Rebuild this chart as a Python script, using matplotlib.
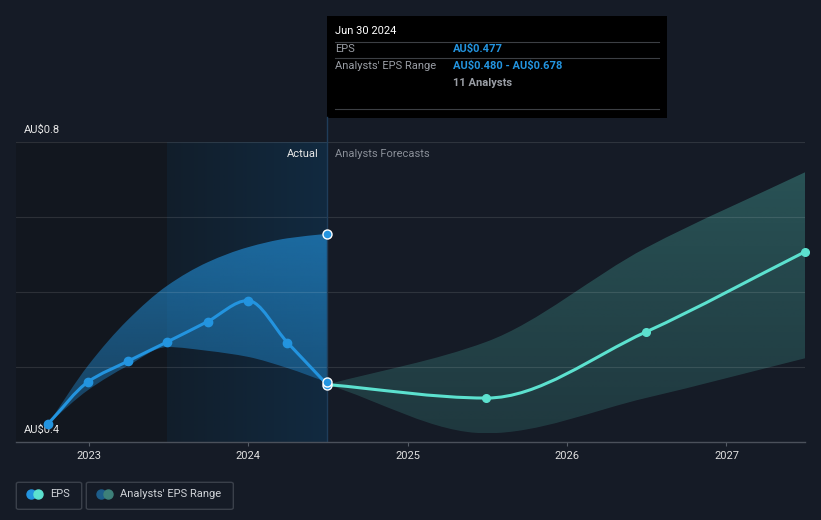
import numpy as np
import pandas as pd
import matplotlib
matplotlib.use("Agg")
from matplotlib import pyplot as plt
import matplotlib.dates as mdates
from matplotlib.path import Path
from matplotlib.patches import PathPatch, Rectangle, FancyBboxPatch
from matplotlib.lines import Line2D
from matplotlib.colors import to_rgb

plt.rcParams['font.family'] = ['Roboto', 'DejaVu Sans']

# EPS history (quarterly) and forecasts
actual_dates = ['2022-09-30', '2022-12-31', '2023-03-31', '2023-06-30',
                '2023-09-30', '2023-12-31', '2024-03-31', '2024-06-30']
actual_eps = [0.425, 0.481, 0.508, 0.534, 0.561, 0.589, 0.533, 0.477]

past_range_low = [0.425, 0.470, 0.502, 0.527, 0.522, 0.514, 0.499, 0.480]
past_range_high = [0.425, 0.503, 0.563, 0.609, 0.640, 0.660, 0.672, 0.678]

fc_dates = ['2024-06-30', '2025-06-30', '2026-06-30', '2027-06-30']
fc_eps = [0.477, 0.459, 0.547, 0.654]
fc_low = [0.477, 0.412, 0.459, 0.512]
fc_high = [0.477, 0.534, 0.659, 0.760]

year_ticks = ['2023', '2024', '2025', '2026', '2027']
y_labels = {0.4: 'AU$0.4', 0.8: 'AU$0.8'}

BG = '#151b26'
BLUE = '#2394df'
TEAL = '#5ce1cf'


def to_num(dates):
    return mdates.date2num(pd.to_datetime(dates))


def smooth(xs, ys):
    # monotone cubic through the points, as bezier segments
    xs = np.asarray(xs, float)
    ys = np.asarray(ys, float)
    h = np.diff(xs)
    d = np.diff(ys) / h
    m = np.zeros_like(ys)
    m[0], m[-1] = d[0], d[-1]
    for i in range(1, len(xs) - 1):
        if d[i - 1] * d[i] <= 0:
            m[i] = 0
        else:
            m[i] = 3 * (h[i - 1] + h[i]) / ((2 * h[i] + h[i - 1]) / d[i - 1] + (h[i] + 2 * h[i - 1]) / d[i])
    verts = [(xs[0], ys[0])]
    for i in range(len(xs) - 1):
        verts.append((xs[i] + h[i] / 3, ys[i] + m[i] * h[i] / 3))
        verts.append((xs[i + 1] - h[i] / 3, ys[i + 1] - m[i + 1] * h[i] / 3))
        verts.append((xs[i + 1], ys[i + 1]))
    return verts


def line_path(xs, ys):
    v = smooth(xs, ys)
    return Path(v, [Path.MOVETO] + [Path.CURVE4] * (len(v) - 1))


def band_path(xs, lo, hi):
    up = smooth(xs, hi)
    dn = smooth(xs, lo)[::-1]
    verts = up + dn + [up[0]]
    codes = ([Path.MOVETO] + [Path.CURVE4] * (len(up) - 1)
             + [Path.LINETO] + [Path.CURVE4] * (len(dn) - 1) + [Path.CLOSEPOLY])
    return Path(verts, codes)


def gradient_band(ax, xs, lo, hi, color, a_top, a_bot):
    patch = PathPatch(band_path(xs, lo, hi), facecolor='none', edgecolor='none')
    ax.add_patch(patch)
    g = np.linspace(0, 1, 256)[:, None]
    rgba = np.zeros((256, 1, 4))
    rgba[..., :3] = to_rgb(color)
    rgba[..., 3] = a_top * (1 - g) + a_bot * g
    im = ax.imshow(rgba, extent=[xs[0], xs[-1], min(lo), max(hi)], aspect='auto',
                   origin='upper', zorder=2, interpolation='bilinear')
    im.set_clip_path(patch)


xa = to_num(actual_dates)
xf = to_num(fc_dates)
x_left = to_num(['2022-07-18'])[0]
x_right = to_num(['2027-06-30'])[0]

fig = plt.figure(figsize=(8.21, 5.2), dpi=100, facecolor=BG)
ax = fig.add_axes([16 / 821, 1 - 442.3 / 520, 789 / 821, 300 / 520])
ax.set_facecolor(BG)

# shaded past regions
ax.add_patch(Rectangle((x_left, 0.4), xa[3] - x_left, 0.4, color='#12171f', lw=0, zorder=0))
grad = np.linspace(0, 1, 256)
c0 = np.array([0x11, 0x1e, 0x2b]) / 255
c1 = np.array([0x11, 0x2a, 0x40]) / 255
img = (c0[None, :] * (1 - grad[:, None]) + c1[None, :] * grad[:, None])[None, :, :]
ax.imshow(img, extent=[xa[3], xa[-1], 0.4, 0.8], aspect='auto', zorder=0.5, interpolation='bilinear')

# bands
gradient_band(ax, xa, past_range_low, past_range_high, BLUE, 0.62, 0.33)
gradient_band(ax, xf, fc_low, fc_high, TEAL, 0.28, 0.15)

for v in [0.5, 0.6, 0.7, 0.8]:
    ax.axhline(v, color='white', alpha=0.11, lw=0.8, zorder=2.2)

ax.axvline(xa[-1], color='#1f3d5a', lw=1, zorder=2.5)

# lines
ax.add_patch(PathPatch(line_path(xa, actual_eps), facecolor='none', edgecolor=BLUE,
                       lw=2.2, zorder=3, capstyle='round'))
ax.add_patch(PathPatch(line_path(xf, fc_eps), facecolor='none', edgecolor=TEAL,
                       lw=2.2, zorder=3, capstyle='round'))
ax.plot(xa[:-1], actual_eps[:-1], 'o', color=BLUE, ms=6, zorder=4)
ax.plot(xf[1:], fc_eps[1:], 'o', color=TEAL, ms=5.5, zorder=4, clip_on=False)
ax.plot([xa[-1]] * 3, [actual_eps[-1], past_range_low[-1], past_range_high[-1]], 'o',
        color=BLUE, mec='white', mew=1, ms=6.5, zorder=5)

ax.set_xlim(x_left, x_right)
ax.set_ylim(0.4, 0.8)
ax.set_xticks(to_num([y + '-01-01' for y in year_ticks]))
ax.set_xticklabels(year_ticks)
ax.tick_params(axis='x', colors='#555c66', length=3, pad=3, labelcolor='#e0e0e0', labelsize=8)
ax.set_yticks([])
for s in ['top', 'left', 'right']:
    ax.spines[s].set_visible(False)
ax.spines['bottom'].set_color('#4b515b')
ax.spines['bottom'].set_linewidth(1)

for v, lab in y_labels.items():
    ax.annotate(lab, xy=(0, v), xycoords=('axes fraction', 'data'), xytext=(5.8, 8.8),
                textcoords='offset points', va='center', ha='left', color='#e8e8e8',
                fontsize=8, parse_math=False)

ax.annotate('Actual', xy=(xa[-1], 0.8), xytext=(-6, -8.5), textcoords='offset points',
            ha='right', va='center', color='#e8e8e8', fontsize=8)
ax.annotate('Analysts Forecasts', xy=(xa[-1], 0.8), xytext=(6, -8.5), textcoords='offset points',
            ha='left', va='center', color='#8a8f98', fontsize=8)


# tooltip
def fx(px):
    return px / 821


def fy(py):
    return 1 - py / 520


fig.add_artist(Line2D([fx(327), fx(327)], [fy(117), fy(142)], color='#1f3d5a', lw=1))
fig.add_artist(Rectangle((fx(326.7), fy(117.7)), fx(340), 101.7 / 520, color='black', lw=0))
for py in [41.7, 58.3, 109.3]:
    fig.add_artist(Line2D([fx(335), fx(659)], [fy(py)] * 2, color='#3c3f44', lw=0.8))
tip = [
    (335, 31, 'Jun 30 2024', 'white', 'normal'),
    (335, 49.3, 'EPS', '#9a9ea5', 'normal'),
    (453.3, 49.3, 'AU$0.477', BLUE, 'bold'),
    (335, 66, "Analysts' EPS Range", '#9a9ea5', 'normal'),
    (453.3, 66, 'AU$0.480 - AU$0.678', BLUE, 'bold'),
    (453.3, 82.7, '11 Analysts', '#9a9ea5', 'bold'),
]
for px, py, s, c, w in tip:
    fig.text(fx(px), fy(py), s, color=c, fontsize=8, va='center', fontweight=w, parse_math=False)

# legend
legend_items = [('EPS', BLUE, TEAL, 16.3, 81.7), ("Analysts' EPS Range", '#1d5d8a', '#3d8079', 86.3, 233.3)]
for label, c1_, c2_, x0, x1 in legend_items:
    fig.add_artist(FancyBboxPatch((fx(x0), fy(509.3)), fx(x1 - x0), 27 / 520,
                                  boxstyle='round,pad=0,rounding_size=0.003',
                                  facecolor='none', edgecolor='#3a404a', lw=1))
    fig.add_artist(Line2D([fx(x0 + 14.7)], [fy(494.3)], marker='o', ms=6.5, color=c1_, lw=0))
    fig.add_artist(Line2D([fx(x0 + 21.4)], [fy(494.3)], marker='o', ms=6.5, color=c2_, lw=0))
    fig.text(fx(x0 + 34), fy(494.3), label, color='#d0d3d8', fontsize=8, va='center')

fig.savefig('out.png', dpi=100, facecolor=BG)
